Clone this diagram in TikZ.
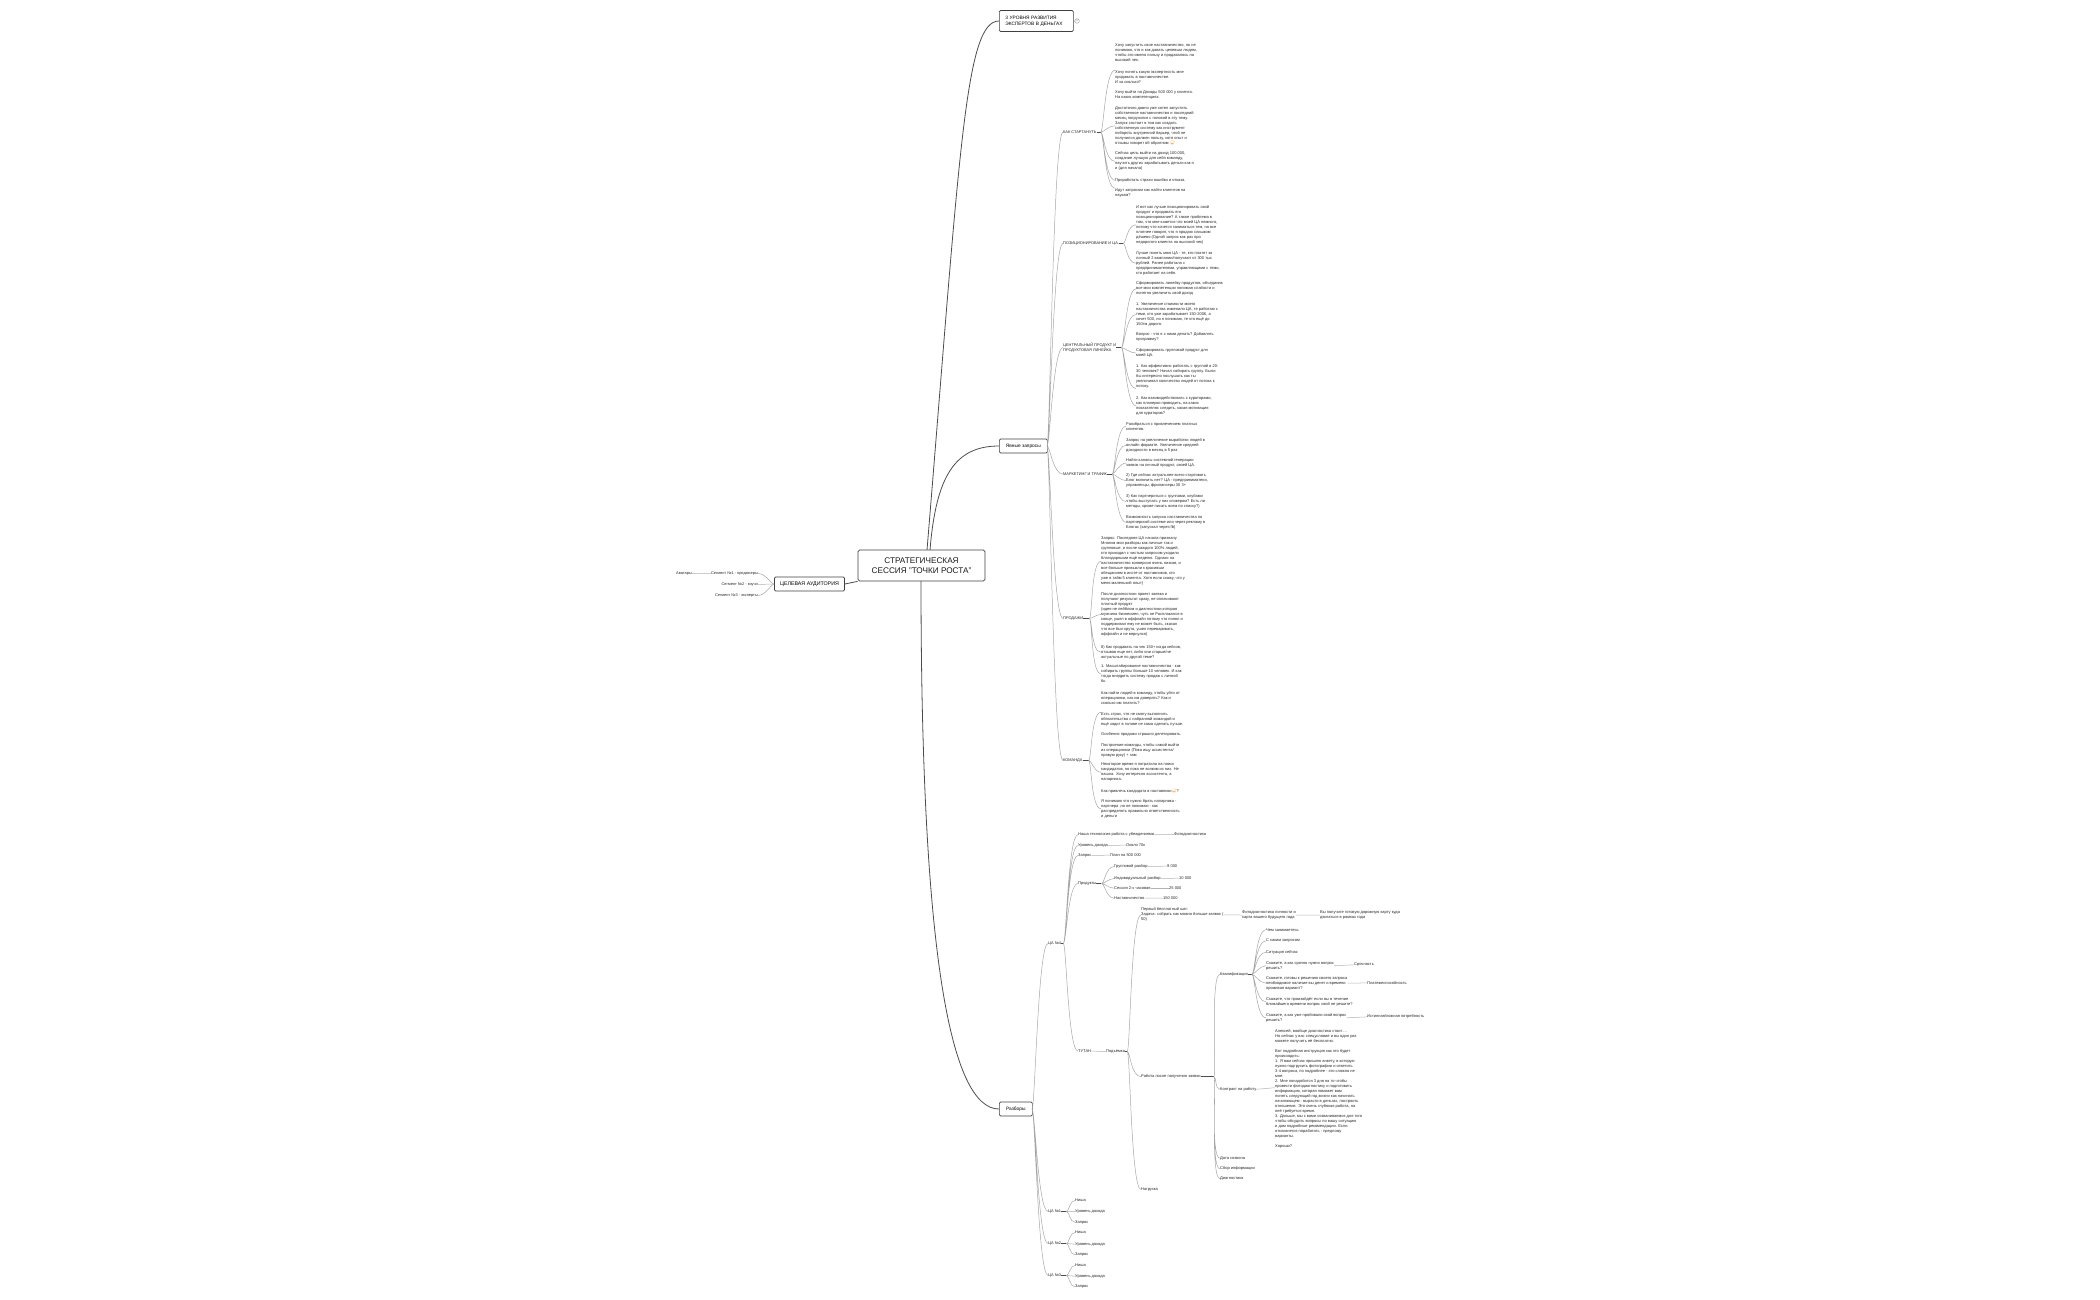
\documentclass[tikz,border=0pt]{standalone}
\usepackage{fontspec}
\setmainfont{Liberation Sans}
\newfontfamily\emojifont{Noto Emoji}
\tikzset{
  rootbox/.style={draw=black!75,line width=.8pt,rounded corners=1.6pt,fill=white,inner sep=0pt,minimum width=127pt,minimum height=31pt,align=center,font=\fontsize{8.2}{10.4}\selectfont,text=black!90},
  topbox/.style={draw=black!75,line width=.7pt,rounded corners=1.2pt,fill=white,inner sep=0pt,align=left,font=\fontsize{4.8}{6}\selectfont,text=black},
  leaf/.style={anchor=north west,yshift=.5pt,inner sep=0pt,align=left,font=\fontsize{4}{5}\selectfont,text=black!85},
  head/.style={leaf,font=\fontsize{3.9}{5.4}\selectfont},
  trunk/.style={draw=black!70,line width=.8pt},
  stub/.style={draw=black!70,line width=.6pt},
  link/.style={draw=black!35,line width=.5pt,out=0,in=180,out max distance=3pt,in max distance=10pt},
  flat/.style={draw=black!30,line width=.5pt},
}
\begin{document}
\begin{tikzpicture}[x=1pt,y=-1pt]
  \useasboundingbox (0,0) rectangle (2100,1300);
  % main boxes
  \node[rootbox] (root) at (921.5,565.5) {СТРАТЕГИЧЕСКАЯ\\СЕССИЯ "ТОЧКИ РОСТА"};
  \node[topbox,minimum width=70pt,minimum height=14pt,align=center,font=\fontsize{5.3}{6}\selectfont] (ca) at (809.5,584) {ЦЕЛЕВАЯ АУДИТОРИЯ};
  \node[topbox,anchor=west,minimum width=74pt,minimum height=21pt,text width=62pt,inner xsep=6pt] (lvl) at (999,21) {3 УРОВНЯ РАЗВИТИЯ\\ЭКСПЕРТОВ В ДЕНЬГАХ};
  \node[topbox,anchor=west,minimum width=48pt,minimum height=14pt,align=center] (yav) at (999,446) {Явные запросы};
  \node[topbox,anchor=west,minimum width=33pt,minimum height=14pt,align=center] (raz) at (999,1109) {Разборы};
  \node[draw=black!45,line width=.35pt,circle,inner sep=0pt,minimum size=4.6pt,font=\fontsize{2.6}{3}\selectfont,text=black!60] (lvln) at (1077,21) {5};
  \coordinate (rt1) at (927,550);
  \coordinate (rt2) at (930,550);
  \coordinate (rb) at (921,581);
  \draw[trunk] (rt1) .. controls (960,150) and (965,21) .. (lvl.west);
  \draw[trunk] (rt2) .. controls (936,476) and (955,446) .. (yav.west);
  \draw[trunk] (rb) .. controls (921,950) and (950,1109) .. (raz.west);
  \draw[trunk] (root.south west) -- (ca.east);
  \draw[flat] (lvl.east) -- (lvln.west);

  % left side
  \node[leaf,anchor=north east,font=\fontsize{3.9}{5}\selectfont] (s1) at (758,572) {Сегмент №1 - продюсеры};
  \node[leaf,anchor=north east,font=\fontsize{3.9}{5}\selectfont] (s2) at (758,583) {Сегмент №2 - коучи};
  \node[leaf,anchor=north east,font=\fontsize{3.9}{5}\selectfont] (s3) at (758,594) {Сегмент №3 - эксперты};
  \node[leaf,anchor=north east,font=\fontsize{3.9}{5}\selectfont] (ava) at (692,572) {Аватары};
  \draw[flat] (s1.west) -- (ava.east);
  \draw[link,out=180,in=0] (ca.west) to (s1.east) (ca.west) to (s3.east);
  \draw[flat] (ca.west) -- (s2.east);

  % yavnye
  \coordinate (yavj) at (1047,446);
  \node[head] (kak) at (1063,131) {КАК СТАРТАНУТЬ};
  \node[head] (poz) at (1063,242) {ПОЗИЦИОНИРОВАНИЕ И ЦА.};
  \node[head] (cen) at (1063,343) {ЦЕНТРАЛЬНЫЙ ПРОДУКТ И\\ПРОДУКТОВАЯ ЛИНЕЙКА};
  \node[head] (mar) at (1063,473) {МАРКЕТИНГ И ТРАФИК};
  \node[head] (pro) at (1063,617) {ПРОДАЖИ};
  \node[head] (kom) at (1063,759) {КОМАНДА};
  \draw[link] (yavj) to (kak.west) (yavj) to (poz.west) (yavj) to (cen.west) (yavj) to (mar.west) (yavj) to (pro.west) (yavj) to (kom.west);

  \node[leaf] (k1) at (1115,44.5) {Хочу запустить свое наставничество, но не\\понимаю, что и как давать целевым людям,\\чтобы это имело пользу и продавалось на\\высокий чек.};
  \node[leaf] (k2) at (1115,70.7) {Хочу понять какую экспертность мне\\продавать в наставничестве.\\И за сколько?};
  \node[leaf] (k3) at (1115,90.7) {Хочу выйти на  Доходы 500 000 у клиента.\\На каких компетенциях.};
  \node[leaf] (k4) at (1115,106.7) {Достаточно давно уже хотел запустить\\собственное наставничество и последний\\месяц погрузился с головой в эту тему.\\Запуск состоит в том как создать\\собственную систему как инструмент\\побороть внутренний барьер, чтоб не\\получился должен пользу, хотя опыт и\\отзывы говорят об обратном {\emojifont\textcolor{orange}{😅}}};
  \node[leaf] (k5) at (1115,152.3) {Сейчас цель выйти на доход 100.000,\\создание лучшую для себя команду,\\научить других зарабатывать деньги как я\\и (для начала)};
  \node[leaf] (k6) at (1115,178.7) {Проработать страхи ошибки и отказа.};
  \node[leaf] (k7) at (1115,188.7) {Идут запросом как найти клиентов на\\наукам?};
  \draw[stub] (kak.east) -- ++(4,0) coordinate (kakj);
  \draw[link] (kakj) to (k2.north west) (kakj) to (k4.west) (kakj) to (k5.west) (kakj) to (k6.west) (kakj) to (k7.north west);

  \node[leaf] (p1) at (1136,205.7) {И вот как лучше позиционировать свой\\продукт и продавать его\\позиционирование? А также проблема в\\том, что мне кажется что моей ЦА немного,\\потому что хочется заниматься тем, но все\\плотнее говорят, что я продаю слишком\\дёшево (Одной запрос как раз про\\недорогого клиента на высокий чек)};
  \node[leaf] (p2) at (1136,251.7) {Лучше понять мою ЦА - те, кто платят за\\личный 2 кампании/получают от 300 тыс\\рублей. Ранее работала с\\предпринимателями, управляющими с теми,\\кто работает на себя.};
  \draw[stub] (poz.east) -- ++(4,0) coordinate (pozj);
  \draw[link] (pozj) to (p1.west) (pozj) to (p2.west);

  \node[leaf] (c1) at (1136,282.3) {Сформировать линейку продуктов, объединив\\все мои компетенции понимая слабости и\\понятно увеличить свой доход};
  \node[leaf] (c2) at (1136,303) {1. Увеличение стоимости моего\\наставничества изменило ЦА, те работаю с\\теми, кто уже зарабатывает 150-200К, а\\хочет 500, но я понимаю, те кто ещё до\\150тм дорого.};
  \node[leaf] (c3) at (1136,333) {Вопрос - что я с ними делать? Добавлять\\программу?};
  \node[leaf] (c4) at (1136,349) {Сформировать групповой продукт для\\моей ЦА.};
  \node[leaf] (c5) at (1136,365) {1. Как эффективно работать с группой в 20-\\30 человек? Начал собирать группу. Были\\бы интересно послушать как ты\\увеличивал количество людей от потока к\\потоку.};
  \node[leaf] (c6) at (1136,396.7) {2. Как взаимодействовать с кураторами,\\как планерки проводить, на каких\\показателях следить, какая мотивация\\для кураторов?};
  \draw[stub] (cen.east) -- ++(5,0) coordinate (cenj);
  \draw[link] (cenj) to (c1.west) (cenj) to (c2.west) (cenj) to (c4.west) (cenj) to (c5.south west) (cenj) to (c6.west);

  \node[leaf] (m1) at (1126,422.7) {Разобраться с привлечением платных\\клиентов.};
  \node[leaf] (m2) at (1126,438.7) {Запрос на увеличение выработки людей в\\онлайн формате.  Увеличение средней\\доходности в месяц в 5 раз};
  \node[leaf] (m3) at (1126,459) {Найти каналы системной генерации\\заявок на личный продукт, своей ЦА.};
  \node[leaf] (m4) at (1126,474) {2) Где сейчас актуальнее всего стартовать\\Блог включить нет? ЦА - предприниматели,\\управленцы, фрилансеры 30 3+};
  \node[leaf] (m5) at (1126,495) {3) Как партнериться с группами, клубами\\чтобы выступать у них спикером? Есть ли\\методы, кроме писать всем по списку?)};
  \node[leaf] (m6) at (1126,515.7) {Возможность запуска наставничества по\\партнерской системе или через рекламу в\\Блогах (запускал через fb)};
  \draw[stub] (mar.east) -- ++(5,0) coordinate (marj);
  \draw[link] (marj) to (m1.west) (marj) to (m2.west) (marj) to (m3.west) (marj) to (m4.west) (marj) to (m5.west) (marj) to (m6.west);

  \node[leaf] (t1) at (1101,537.3) {Запрос: Последняя ЦА начала признану\\Многим мои разборы как личные так и\\групповые, и после каждого 100\% людей,\\кто приходил с чистым запросом уходили\\благодарными ещё неделю. Однако на\\наставничество конверсия очень низкая, и\\все больше привыкли к красивым\\обещаниям в инсте от наставников, кто\\уже в тайм 5 клиента. Хотя если скажу, что у\\меня маленький опыт)};
  \node[leaf] (t2) at (1101,593) {После диагностики проект заявка и\\получают результат сразу, не оплачивают\\платный продукт\\(идея не лейблом и диагностики которая\\мужчина бизнесмен,  чуть не Расплакался в\\конце, ушел в оффлайн потому что понял и\\поддерживал ему не может быть,  сказал\\что все был круто,  ушел переваривать,\\оффлайн и не вернулся)};
  \node[leaf] (t3) at (1101,645.7) {8) Как продавать на чек 150+ когда кейсов,\\отзывов еще нет, либо они старые/не\\актуальные по другой теме?};
  \node[leaf] (t4) at (1101,665.3) {1. Масштабирование наставничества - как\\собирать группы больше 10 человек. И как\\тогда внедрять систему продаж с личной\\6к.};
  \node[leaf] (t5) at (1101,692) {Как найти людей в команду, чтобы уйти от\\операционки, как им доверять? Как и\\сколько им платить?};
  \draw[stub] (pro.east) -- ++(6,0) coordinate (proj);
  \draw[link] (proj) to (t1.west) (proj) to (t2.west) (proj) to (t3.west) (proj) to (t4.west);

  \node[leaf] (o1) at (1101,712.7) {Есть страх, что не смогу выполнить\\обязательства с набранной командой и\\ещё ходит в голове не сама сделать лучше.};
  \node[leaf] (o2) at (1101,732.7) {Особенно продажи страшно делегировать.};
  \node[leaf] (o3) at (1101,743.7) {Построение команды, чтобы самой выйти\\из операционки (Пока ищу ассистента/\\правую руку) + зам};
  \node[leaf] (o4) at (1101,763.3) {Некоторое время я потратила на поиск\\кандидатов, но пока не всяким из них. Не\\нашла. Хочу интересно ассистента, а\\напарника.};
  \node[leaf] (o5) at (1101,789.7) {Как привлечь кандидата в наставники{\emojifont\textcolor{orange}{😅}}?};
  \node[leaf] (o6) at (1101,799.7) {Я понимаю что нужно брать напарника -\\партнера ,но не понимаю - как\\распределять правильно ответственность\\и деньги};
  \draw[stub] (kom.east) -- ++(6,0) coordinate (komj);
  \draw[link] (komj) to (o1.north west) (komj) to (o4.west) (komj) to (o6.west);

  % razbory
  \coordinate (razj) at (1032,1109);
  \node[head] (ca0) at (1048,942) {ЦА №4};
  \node[head] (ca1) at (1048,1210) {ЦА №1};
  \node[head] (ca2) at (1048,1242) {ЦА №2};
  \node[head] (ca3) at (1048,1274) {ЦА №3};
  \draw[link] (razj) to (ca0.west) (razj) to (ca1.west) (razj) to (ca2.west) (razj) to (ca3.west);
  \draw[stub] (ca0.east) -- ++(2,0) coordinate (ca0j);

  \node[leaf] (d1) at (1078,833) {Наша технология работа с убеждениями};
  \node[leaf] (d1a) at (1174,833) {Фотодиагностика};
  \node[leaf] (d2) at (1078,844) {Уровень дохода};
  \node[leaf] (d2a) at (1126,844) {Около 70к};
  \node[leaf] (d3) at (1078,854) {Запрос};
  \node[leaf] (d3a) at (1110,854) {План на 500 000};
  \node[leaf] (d4) at (1078,882) {Продукты};
  \node[leaf] (d5) at (1078,1050) {ТУТАН};
  \draw[link] (ca0j) to (d1.west) (ca0j) to (d2.west) (ca0j) to (d3.west) (ca0j) to (d4.west) (ca0j) to (d5.west);
  \draw[flat] (d1.east) -- (d1a.west);
  \draw[flat] (d2.east) -- (d2a.west);
  \draw[flat] (d3.east) -- (d3a.west);

  \node[leaf] (e1) at (1114,865) {Групповой разбор};
  \node[leaf] (e1a) at (1167,865) {9 000};
  \node[leaf] (e2) at (1114,877) {Индивидуальный разбор};
  \node[leaf] (e2a) at (1179,877) {10 000};
  \node[leaf] (e3) at (1114,887) {Сессия 2-х часовая};
  \node[leaf] (e3a) at (1169,887) {25 000};
  \node[leaf] (e4) at (1114,897) {Наставничество};
  \node[leaf] (e4a) at (1163,897) {150 000};
  \draw[stub] (d4.east) -- ++(5,0) coordinate (d4j);
  \draw[link] (d4j) to (e1.west) (d4j) to (e2.west) (d4j) to (e3.west) (d4j) to (e4.west);
  \draw[flat] (e1.east) -- (e1a.west);
  \draw[flat] (e2.east) -- (e2a.west);
  \draw[flat] (e3.east) -- (e3a.west);
  \draw[flat] (e4.east) -- (e4a.west);

  \node[leaf] (f0) at (1106,1050) {Подъёмка};
  \draw[flat] (d5.east) -- (f0.west);
  \node[leaf] (f1) at (1141,908.3) {Первый бесплатный шаг:\\Задача: собрать как можно больше заявок (\\50)};
  \node[leaf] (f2) at (1141,1075) {Работа после получения заявки};
  \node[leaf] (f3) at (1141,1188) {Нагрузка};
  \draw[stub] (f0.east) -- ++(2,0) coordinate (f0j);
  \draw[link] (f0j) to (f1.west) (f0j) to (f2.west) (f0j) to (f3.west);
  \node[leaf] (f1a) at (1242,911) {Фотодиагностика личности и\\карта вашего будущего года};
  \node[leaf] (f1b) at (1320,911) {Вы получите готовую дорожную карту куда\\двигаться в рамках года};
  \draw[flat] (f1.east) -- (f1a.west);
  \draw[flat] (f1a.east) -- (f1b.west);

  \node[leaf] (g1) at (1220,972.7) {Квалификация};
  \node[leaf] (g2) at (1220,1087.7) {Контракт на работу};
  \node[leaf] (g3) at (1220,1156.7) {Дата созвона};
  \node[leaf] (g4) at (1220,1167.3) {Сбор информации};
  \node[leaf] (g5) at (1220,1177.3) {Диагностика};
  \draw[stub] (f2.east) -- ++(13,0) coordinate (f2j);
  \draw[link] (f2j) to (g1.west) (f2j) to (g2.west) (f2j) to (g3.west) (f2j) to (g4.west) (f2j) to (g5.west);

  \node[leaf] (q1) at (1266,928.7) {Чем занимаетесь};
  \node[leaf] (q2) at (1266,939.3) {С каким запросом};
  \node[leaf] (q3) at (1266,950.7) {Ситуация сейчас};
  \node[leaf] (q4) at (1266,961.7) {Скажите, а как срочно нужно вопрос\\решить?};
  \node[leaf] (q4a) at (1354,963.3) {Срочность};
  \node[leaf] (q5) at (1266,976.7) {Скажите, готовы к решению своего запроса\\необходимое наличие вы денег и времени\\проживая вариант?};
  \node[leaf] (q5a) at (1367,981.7) {Платежеспособность};
  \node[leaf] (q6) at (1266,997.7) {Скажите, что произойдёт если вы в течение\\ближайшего времени вопрос свой не решите?};
  \node[leaf] (q7) at (1266,1013.7) {Скажите, а как уже пробовали свой вопрос\\решить?};
  \node[leaf] (q7a) at (1367,1015.3) {Истинная/ложная потребность};
  \draw[stub] (g1.east) -- ++(4,0) coordinate (g1j);
  \draw[link] (g1j) to (q1.west) (g1j) to (q2.west) (g1j) to (q3.west) (g1j) to (q4.west) (g1j) to (q5.west) (g1j) to (q6.west) (g1j) to (q7.west);
  \draw[flat] (q4.east) -- (q4a.west);
  \draw[flat] (q5.east) -- (q5a.west);
  \draw[flat] (q7.east) -- (q7a.west);

  \node[leaf] (w1) at (1275,1030) {Алексей, вообще диагностика стоит ...\\Но сейчас у вас спецусловие и вы один раз\\можете получить её бесплатно.\\[5pt]Вот подробная инструкция как это будет\\происходить:\\1. Я вам сейчас пришлю анкету, в которую\\нужно подгрузить фотографии и ответить\\3-4 вопроса, по подробнее - это сложно не\\мне.\\2. Мне понадобится 3 дня на то чтобы\\провести фотодиагностику и подготовить\\информацию, которая поможет вам\\понять следующий год жизни как начинать\\начинающем - вырасти в деньгах, построить\\отношения. Это очень глубокая работа, на\\неё требуется время.\\3. Дальше, мы с вами созваниваемся для того\\чтобы обсудить вопросы по вашу ситуацию\\и дам подробные рекомендации. Если\\откликнется поработать - предложу\\варианты.\\[5pt]Хорошо?};
  \coordinate (w1p) at (1275,1087.7);
  \draw[flat] (g2.east) -- (w1p);

  \node[leaf] (a1) at (1075,1199.3) {Ниша};
  \node[leaf] (a2) at (1075,1210) {Уровень дохода};
  \node[leaf] (a3) at (1075,1220.7) {Запрос};
  \draw[stub] (ca1.east) -- ++(5,0) coordinate (ca1j);
  \draw[link] (ca1j) to (a1.west) (ca1j) to (a2.west) (ca1j) to (a3.west);
  \node[leaf] (b1) at (1075,1231.3) {Ниша};
  \node[leaf] (b2) at (1075,1242.7) {Уровень дохода};
  \node[leaf] (b3) at (1075,1253.3) {Запрос};
  \draw[stub] (ca2.east) -- ++(5,0) coordinate (ca2j);
  \draw[link] (ca2j) to (b1.west) (ca2j) to (b2.west) (ca2j) to (b3.west);
  \node[leaf] (h1) at (1075,1264.3) {Ниша};
  \node[leaf] (h2) at (1075,1274.7) {Уровень дохода};
  \node[leaf] (h3) at (1075,1285.3) {Запрос};
  \draw[stub] (ca3.east) -- ++(5,0) coordinate (ca3j);
  \draw[link] (ca3j) to (h1.west) (ca3j) to (h2.west) (ca3j) to (h3.west);
\end{tikzpicture}
\end{document}
